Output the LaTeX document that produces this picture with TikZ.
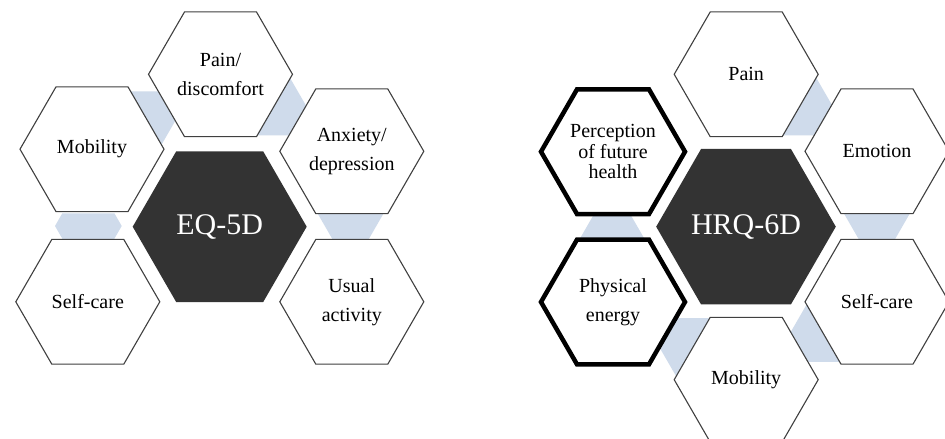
\documentclass[tikz,border=0pt]{standalone}
\usepackage{fontspec}
\setmainfont{Liberation Serif}
\usetikzlibrary{shapes.geometric}
\definecolor{linkblue}{RGB}{207,219,235}
\definecolor{hubgray}{RGB}{51,51,51}
\definecolor{edgegray}{RGB}{64,64,64}
\begin{document}
\begin{tikzpicture}[x=1pt,y=1pt,
  hexcell/.style={regular polygon, regular polygon sides=6, minimum size=144pt,
    inner sep=0pt, outer sep=0pt, fill=white, draw=edgegray, line width=1.1pt,
    align=center, font=\fontsize{20}{29}\selectfont},
  boldcell/.style={hexcell, draw=black, line width=4.5pt},
  hub/.style={regular polygon, regular polygon sides=6, minimum size=174pt,
    inner sep=0pt, outer sep=0pt, fill=hubgray, text=white,
    font=\fontsize{30}{36}\selectfont},
  linkfill/.style={fill=linkblue}]
\clip (0,0) rectangle (945,439);
\fill[white] (0,0) rectangle (945,439);
\coordinate (Lc) at (219.7,212.3);
\coordinate (Rc) at (746,212.3);

% light connector pieces, mostly hidden behind the cells
\fill[linkfill] (55,213) -- (62.3,225.7) -- (114.4,225.7) -- (121.7,213)
  -- (113.9,199.5) -- (62.8,199.5) -- cycle;
\foreach \a in {60,0,-60}
  \fill[linkfill, shift={(Lc)}, rotate=\a] (66.7,155) -- (103.5,91.4) -- (30.3,91.4) -- cycle;
\foreach \a in {0,-60,-120,180}
  \fill[linkfill, shift={(Rc)}, rotate=\a] (66.7,155) -- (103.5,91.4) -- (30.3,91.4) -- cycle;
\fill[linkfill, shift={(Rc)}, xshift=-3pt, rotate=120] (66.7,155) -- (103.5,91.4) -- (30.3,91.4) -- cycle;

% EQ-5D cluster
\node[hexcell] (lmob) at (92,289.8) {Mobility};
\node[hexcell] (lpain) at (220.5,364.7) {Pain/\\discomfort};
\node[hexcell] (lanx) at (351.8,287.7) {Anxiety/\\depression};
\node[hexcell] (luse) at (351.8,137.2) {Usual\\activity};
\node[hexcell] (lself) at (87.8,137.2) {Self-care};
\node[hub] (eq) at (Lc) {EQ-5D};

% HRQ-6D cluster
\node[hexcell] (rpain) at (746.2,364.7) {Pain};
\node[hexcell] (remo) at (877,287.7) {Emotion};
\node[hexcell] (rself) at (877,137.2) {Self-care};
\node[hexcell] (rmob) at (746.2,59.3) {Mobility};
\node[boldcell] (rphys) at (613,137) {Physical\\energy};
\node[boldcell, font=\fontsize{20}{20.5}\selectfont] (rperc) at (613,287.3) {Perception\\of future\\health};
\node[hub] (hrq) at (Rc) {HRQ-6D};
\end{tikzpicture}
\end{document}
